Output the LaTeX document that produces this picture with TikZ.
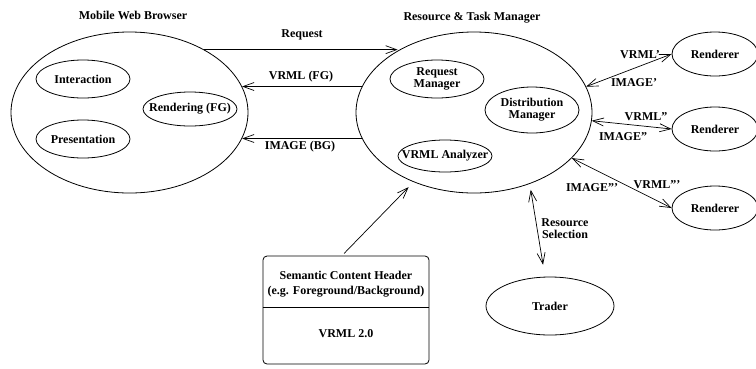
\documentclass[tikz,border=0pt]{standalone}
\usepackage{fontspec}
\setmainfont{Liberation Serif}
\usetikzlibrary{shapes.geometric,arrows.meta}
\begin{document}
\begin{tikzpicture}[x=1pt,y=-1pt,
  every node/.style={font=\bfseries\fontsize{12}{12}\selectfont},
  ell/.style={draw, ellipse, inner sep=0pt, line width=0.8pt},
  txt/.style={inner sep=0pt, align=center},
  >={Straight Barb[length=11pt,width=8pt]},
  conn/.style={line width=0.7pt}
]
\useasboundingbox (0,0) rectangle (756,368);

% titles
\node[txt] (t1) at (133,15) {Mobile Web Browser};
\node[txt] (t2) at (472,18) {Resource \& Task Manager};

% main ellipses
\node[ell, minimum width=237, minimum height=161] (mwb) at (129.5,112.5) {};
\node[ell, minimum width=236, minimum height=161] (rtm) at (474,112.5) {};

% browser parts
\node[ell, minimum width=94, minimum height=38] (inter) at (83,79) {};
\node[txt] (interT) at (inter) {Interaction};
\node[ell, minimum width=94, minimum height=38] (pres) at (83,139) {};
\node[txt] (presT) at (pres) {Presentation};
\node[ell, minimum width=94, minimum height=34] (rend) at (190,109) {};
\node[txt] (rendT) at (rend) {Rendering (FG)};

% manager parts
\node[ell, minimum width=94, minimum height=38] (reqm) at (437,79) {};
\node[txt] (reqmT) at (reqm) {Request\\Manager};
\node[ell, minimum width=94, minimum height=46] (dist) at (532,110) {};
\node[txt] (distT) at (dist) {Distribution\\Manager};
\node[ell, minimum width=94, minimum height=32] (vana) at (445,156) {};
\node[txt] (vanaT) at (vana) {VRML Analyzer};

% renderers
\node[ell, minimum width=86, minimum height=44] (r1) at (715,54) {};
\node[txt] (r1T) at (r1) {Renderer};
\node[ell, minimum width=86, minimum height=44] (r2) at (715,129) {};
\node[txt] (r2T) at (r2) {Renderer};
\node[ell, minimum width=86, minimum height=44] (r3) at (715,208) {};
\node[txt] (r3T) at (r3) {Renderer};

% trader
\node[ell, minimum width=128, minimum height=58] (trader) at (550,306) {};
\node[txt] (traderT) at (trader) {Trader};

% semantic content header box
\node[draw, rounded corners=4pt, line width=0.8pt, minimum width=166, minimum height=108, inner sep=0pt] (sch) at (346,310) {};
\draw[line width=0.8pt] ([yshift=3pt]sch.west) -- ([yshift=3pt]sch.east);
\node[txt, font=\bfseries\fontsize{12}{15}\selectfont] (schT) at (346,284.5) {Semantic Content Header\\(e.g. Foreground/Background)};
\node[txt] (vrmlT) at (346,334) {VRML 2.0};

% connectors browser <-> manager
\draw[conn,->] (mwb.40) -- (mwb.40 -| rtm.141);
\draw[conn,<-] (mwb.13) -- (mwb.13 -| rtm.167);
\draw[conn,<-] (mwb.347) -- (mwb.347 -| rtm.193);
\node[txt] (lreq) at (302,35) {Request};
\node[txt] (lvfg) at (301,77) {VRML (FG)};
\node[txt] (libg) at (300,147) {IMAGE (BG)};

% manager <-> renderers
\draw[conn,<->] (rtm.13) -- (r1.west);
\draw[conn,<->] (rtm.356) -- (r2.west);
\draw[conn,<->] (rtm.335) -- (r3.west);
\node[txt] (lv1) at (640,55) {VRML'};
\node[txt] (li1) at (634,83) {IMAGE'};
\node[txt] (lv2) at (646,117) {VRML''};
\node[txt] (li2) at (623,137) {IMAGE''};
\node[txt] (li3) at (592,188) {IMAGE'''};
\node[txt] (lv3) at (657,185) {VRML'''};

% resource selection
\draw[conn,<->, shorten <=6pt, shorten >=12pt] (rtm.308) -- ([xshift=-5pt]trader.north);
\node[txt] (lrs) at (565,229) {Resource\\Selection};

% header -> manager
\draw[conn,->, shorten <=3pt, shorten >=7pt] ([xshift=-4pt]sch.north) -- (rtm.229);
\end{tikzpicture}
\end{document}
